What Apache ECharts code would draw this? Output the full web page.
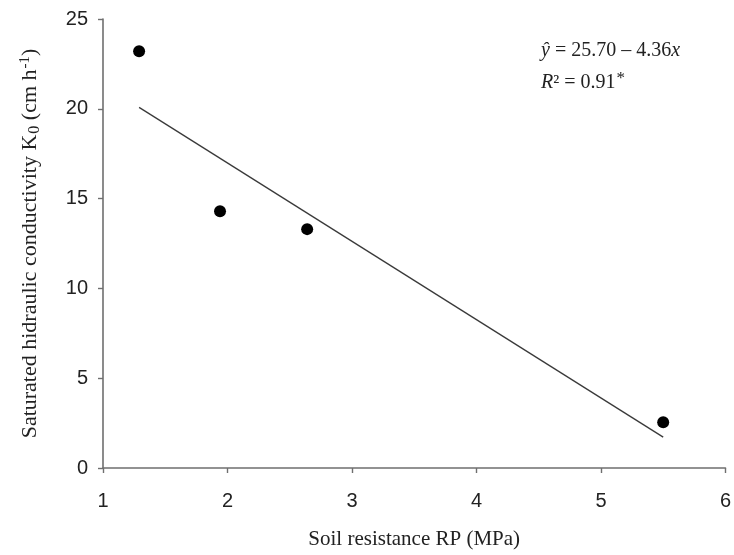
<!DOCTYPE html>
<html>
<head>
<meta charset="utf-8">
<script src="https://cdn.jsdelivr.net/npm/echarts@6/dist/echarts.min.js"></script>
<style>
  html, body { margin: 0; padding: 0; background: #fff; }
  #chart { width: 734px; height: 555px; }
</style>
</head>
<body>
<div id="chart"></div>
<script>
// Soil resistance (MPa) vs saturated hydraulic conductivity (cm/h)
const resistance = [1.29, 1.94, 2.64, 5.50];
const conductivity = [23.2, 14.3, 13.3, 2.55];
// Fitted regression line, drawn between its two end points
const fitX = [1.29, 5.50];
const fitY = [20.08, 1.72];
const xTicks = [1, 2, 3, 4, 5, 6];
const yTicks = [0, 5, 10, 15, 20, 25];

const points = resistance.map((x, i) => [x, conductivity[i]]);
const fitLine = fitX.map((x, i) => [x, fitY[i]]);

const axisGray = '#6f6f6f';
const serif = '"Liberation Serif", "DejaVu Serif", serif';
const sans = '"Liberation Sans", Arial, sans-serif';

const chart = echarts.init(document.getElementById('chart'), null, { renderer: 'canvas' });
chart.setOption({
  animation: false,
  backgroundColor: '#ffffff',
  grid: { left: 103, right: 8, top: 19, bottom: 84.5, containLabel: false },
  xAxis: {
    type: 'value',
    min: xTicks[0],
    max: xTicks[xTicks.length - 1],
    interval: 1,
    splitLine: { show: false },
    axisLine: { show: true, onZero: false, lineStyle: { color: axisGray, width: 1.6 } },
    axisTick: { show: true, length: 5, lineStyle: { color: axisGray, width: 1.4 } },
    axisLabel: { color: '#222', fontFamily: sans, fontSize: 20, margin: 23 },
    name: 'Soil resistance RP (MPa)',
    nameLocation: 'middle',
    nameGap: 61,
    nameTextStyle: { color: '#222', fontFamily: serif, fontSize: 21 }
  },
  yAxis: {
    type: 'value',
    min: yTicks[0],
    max: yTicks[yTicks.length - 1],
    interval: 5,
    splitLine: { show: false },
    axisLine: { show: true, onZero: false, lineStyle: { color: axisGray, width: 1.6 } },
    axisTick: { show: true, length: 5, lineStyle: { color: axisGray, width: 1.4 } },
    axisLabel: { color: '#222', fontFamily: sans, fontSize: 20, margin: 15 },
    name: '{a|Saturated hidraulic conductivity K}{sub|0}{a| (cm h}{sup|-1}{a|)}',
    nameLocation: 'middle',
    nameRotate: 90,
    nameGap: 58,
    nameTextStyle: {
      color: '#222',
      fontFamily: serif,
      fontSize: 22,
      rich: {
        a: { fontFamily: serif, fontSize: 22, color: '#222', lineHeight: 30 },
        sub: { fontFamily: serif, fontSize: 16, color: '#222', lineHeight: 30, padding: [9, 0, 0, 1] },
        sup: { fontFamily: serif, fontSize: 15, color: '#222', lineHeight: 30, padding: [0, 0, 9, 1] }
      }
    }
  },
  graphic: [
    {
      type: 'text',
      left: 541,
      top: 41,
      style: {
        text: '{i|ŷ} = 25.70 \u2013 4.36{i|x}',
        font: '20px ' + serif,
        fill: '#222',
        rich: {
          i: { fontStyle: 'italic', fontFamily: serif, fontSize: 20, fill: '#222' }
        }
      }
    },
    {
      type: 'text',
      left: 541,
      top: 70,
      style: {
        text: '{i|R}² = 0.91{s|*}',
        font: '20px ' + serif,
        fill: '#222',
        rich: {
          i: { fontStyle: 'italic', fontFamily: serif, fontSize: 20, fill: '#222' },
          s: { fontFamily: serif, fontSize: 17, fill: '#222', padding: [0, 0, 9, 1] }
        }
      }
    }
  ],
  series: [
    {
      type: 'line',
      data: fitLine,
      symbol: 'none',
      lineStyle: { color: '#3a3a3a', width: 1.3 },
      z: 2
    },
    {
      type: 'scatter',
      data: points,
      symbol: 'circle',
      symbolSize: 12,
      itemStyle: { color: '#000', opacity: 1 },
      z: 3
    }
  ]
});
</script>
</body>
</html>
